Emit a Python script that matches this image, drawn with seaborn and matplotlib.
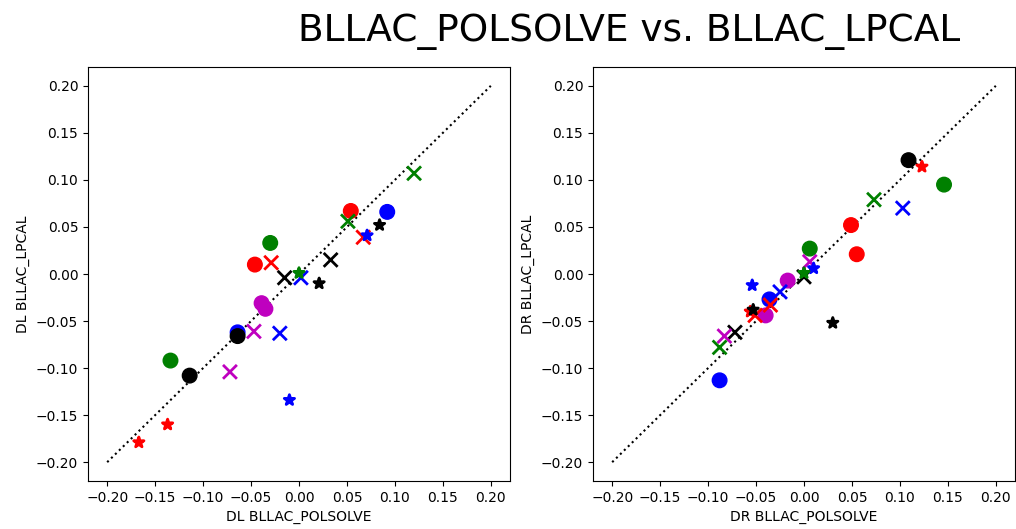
import matplotlib
matplotlib.use("Agg")
import matplotlib.pyplot as plt
import seaborn as sns
import pandas as pd

# DL panel
dl_pol = [-0.046, 0.054, -0.030, -0.134, 0.092, -0.064, -0.064, -0.114, -0.039, -0.035,
          0.120, 0.051, -0.029, 0.067, -0.015, 0.033, 0.002, -0.020, -0.047, -0.072,
          0.000, 0.021, 0.084, 0.071, -0.010, -0.137, -0.167]
dl_lpc = [0.010, 0.067, 0.033, -0.092, 0.066, -0.062, -0.066, -0.108, -0.031, -0.037,
          0.107, 0.056, 0.012, 0.039, -0.004, 0.015, -0.004, -0.063, -0.061, -0.104,
          0.001, -0.010, 0.052, 0.041, -0.134, -0.160, -0.179]
dl_col = ['r', 'r', 'g', 'g', 'b', 'b', 'k', 'k', 'm', 'm',
          'g', 'g', 'r', 'r', 'k', 'k', 'b', 'b', 'm', 'm',
          'g', 'k', 'k', 'b', 'b', 'r', 'r']
dl_mark = ['o'] * 10 + ['x'] * 10 + ['*'] * 7

# DR panel
dr_pol = [0.109, 0.146, 0.049, 0.006, 0.055, -0.017, -0.040, -0.036, -0.088,
          0.073, 0.103, 0.006, 0.000, -0.025, -0.035, -0.051, -0.072, -0.083, -0.088,
          0.123, -0.056, 0.010, 0.000, -0.054, -0.053, 0.030]
dr_lpc = [0.121, 0.095, 0.052, 0.027, 0.021, -0.007, -0.044, -0.027, -0.113,
          0.079, 0.070, 0.013, -0.003, -0.019, -0.033, -0.044, -0.062, -0.066, -0.078,
          0.114, -0.040, 0.006, 0.001, -0.012, -0.038, -0.052]
dr_col = ['k', 'g', 'r', 'g', 'r', 'm', 'm', 'b', 'b',
          'g', 'b', 'm', 'k', 'b', 'r', 'r', 'k', 'm', 'g',
          'r', 'r', 'b', 'g', 'b', 'k', 'k']
dr_mark = ['o'] * 9 + ['x'] * 10 + ['*'] * 7

diag = [-0.2, 0.2]
ticks = [-0.2, -0.15, -0.1, -0.05, 0.0, 0.05, 0.1, 0.15, 0.2]

palette = {c: c for c in ['r', 'g', 'b', 'k', 'm']}

fig = plt.figure(figsize=(10.16, 5.29), dpi=100)
ax1 = fig.add_axes([88 / 1016, 48 / 529, 422 / 1016, 414 / 529])
ax2 = fig.add_axes([593 / 1016, 48 / 529, 422 / 1016, 414 / 529])


def panel(ax, xs, ys, cols, marks, xlabel, ylabel):
    df = pd.DataFrame({'x': xs, 'y': ys, 'c': cols, 'm': marks})
    sns.lineplot(x=diag, y=diag, ax=ax, color='k', linestyle=':', linewidth=1.5)
    for m, s in [('o', 110), ('x', 100), ('*', 60)]:
        sub = df[df['m'] == m]
        if m == 'x':
            sns.scatterplot(data=sub, x='x', y='y', hue='c', palette=palette, marker='x',
                            s=s, linewidth=2, ax=ax, legend=False, zorder=3)
        else:
            sns.scatterplot(data=sub, x='x', y='y', hue='c', palette=palette, marker=m,
                            s=s, edgecolor='face', linewidth=1 if m == 'o' else 2,
                            ax=ax, legend=False, zorder=3)
    ax.set_xlim(-0.22, 0.22)
    ax.set_ylim(-0.22, 0.22)
    ax.set_xticks(ticks)
    ax.set_yticks(ticks)
    ax.set_xlabel(xlabel)
    ax.set_ylabel(ylabel)


panel(ax1, dl_pol, dl_lpc, dl_col, dl_mark, "DL BLLAC_POLSOLVE", "DL BLLAC_LPCAL")
panel(ax2, dr_pol, dr_lpc, dr_col, dr_mark, "DR BLLAC_POLSOLVE", "DR BLLAC_LPCAL")

fig.suptitle("BLLAC_POLSOLVE vs. BLLAC_LPCAL", x=0.619, y=0.975, va='top', fontsize=27)

fig.savefig("out.png", dpi=100)
